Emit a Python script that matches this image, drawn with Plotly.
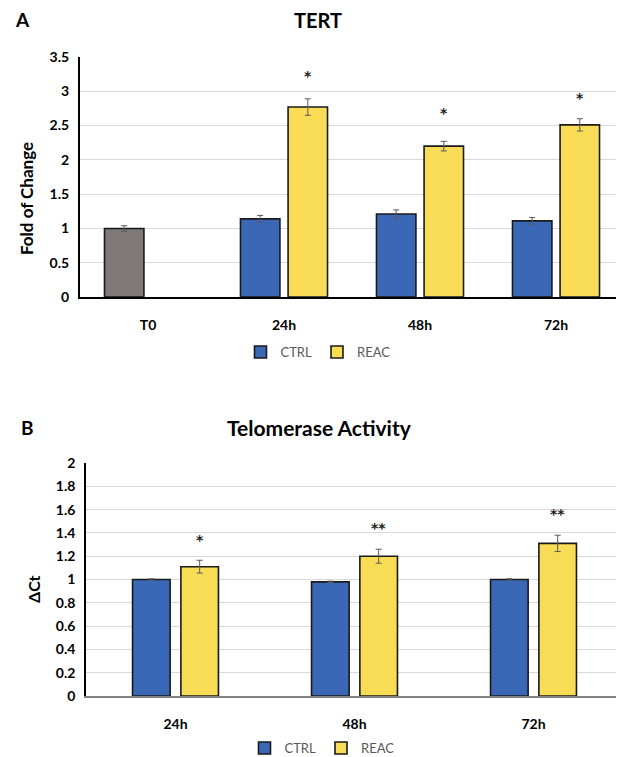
import plotly.graph_objects as go

# ---- Panel A data (TERT) ----
a_categories = ["T0", "24h", "48h", "72h"]
a_t0_value = [1.00]
a_t0_err = [0.04]
a_ctrl_x = ["24h", "48h", "72h"]
a_ctrl = [1.14, 1.21, 1.11]
a_ctrl_err = [0.05, 0.06, 0.05]
a_reac = [2.77, 2.20, 2.51]
a_reac_err = [0.12, 0.07, 0.09]
a_star_text = ["*", "*", "*"]
a_star_y = [3.22, 2.68, 2.90]
a_ticks = [0, 0.5, 1, 1.5, 2, 2.5, 3, 3.5]
a_ticktext = ["0", "0.5", "1", "1.5", "2", "2.5", "3", "3.5"]

# ---- Panel B data (Telomerase Activity) ----
b_categories = ["24h", "48h", "72h"]
b_ctrl = [1.00, 0.98, 1.00]
b_ctrl_err = [0.006, 0.006, 0.006]
b_reac = [1.11, 1.20, 1.31]
b_reac_err = [0.055, 0.06, 0.07]
b_star_text = ["*", "**", "**"]
b_star_y = [1.34, 1.44, 1.56]
b_ticks = [0, 0.2, 0.4, 0.6, 0.8, 1, 1.2, 1.4, 1.6, 1.8, 2]
b_ticktext = ["0", "0.2", "0.4", "0.6", "0.8", "1", "1.2", "1.4", "1.6", "1.8", "2"]

BLUE = "#3b68b6"
YELLOW = "#f8dc55"
GRAY = "#7e7876"
FONT = "Lato"

# page has an 8px body margin; figure fills the rest of the 624x757 window
OFF = 8
W, H = 624 - OFF, 757 - OFF


def px(x):
    return (x - OFF) / W


def py(y):
    return 1 - (y - OFF) / H


fig = go.Figure()

err_style = dict(type="data", color="#5a5a5a", thickness=1, width=3, visible=True)
line_style = dict(color="#1a1a1a", width=1.6)

# Panel A
fig.add_trace(go.Bar(x=["T0"], y=a_t0_value, error_y=dict(array=a_t0_err, **err_style),
                     marker=dict(color=GRAY, line=line_style), offset=-0.32, width=0.29,
                     xaxis="x", yaxis="y", showlegend=False, name="T0"))
fig.add_trace(go.Bar(x=a_ctrl_x, y=a_ctrl, error_y=dict(array=a_ctrl_err, **err_style),
                     marker=dict(color=BLUE, line=line_style), offset=-0.32, width=0.29,
                     xaxis="x", yaxis="y", name="CTRL", legend="legend"))
fig.add_trace(go.Bar(x=a_ctrl_x, y=a_reac, error_y=dict(array=a_reac_err, **err_style),
                     marker=dict(color=YELLOW, line=line_style), offset=0.03, width=0.29,
                     xaxis="x", yaxis="y", name="REAC", legend="legend"))

# Panel B
fig.add_trace(go.Bar(x=b_categories, y=b_ctrl, error_y=dict(array=b_ctrl_err, **err_style),
                     marker=dict(color=BLUE, line=line_style), offset=-0.24, width=0.21,
                     xaxis="x2", yaxis="y2", name="CTRL", legend="legend2"))
fig.add_trace(go.Bar(x=b_categories, y=b_reac, error_y=dict(array=b_reac_err, **err_style),
                     marker=dict(color=YELLOW, line=line_style), offset=0.03, width=0.21,
                     xaxis="x2", yaxis="y2", name="REAC", legend="legend2"))

annotations = []
star_font = dict(family="DejaVu Sans", size=14, color="#1a1a1a", weight="bold")
for i, (t, y) in enumerate(zip(a_star_text, a_star_y)):
    annotations.append(dict(x=i + 1 + 0.175, y=y, xref="x", yref="y", text=t, showarrow=False,
                            yanchor="middle", font=star_font))
for i, (t, y) in enumerate(zip(b_star_text, b_star_y)):
    annotations.append(dict(x=i + 0.135, y=y, xref="x2", yref="y2", text=t, showarrow=False,
                            yanchor="middle", font=star_font))


def label(text, x, y, size, angle=0):
    return dict(text=text, x=px(x), y=py(y), xref="paper", yref="paper", showarrow=False,
                xanchor="center", yanchor="middle", textangle=angle,
                font=dict(family=FONT, size=size, color="black"))


annotations += [
    label("<b>TERT</b>", 318, 20, 20),
    label("<b>A</b>", 22, 20, 19),
    label("<b>Telomerase Activity</b>", 320, 428, 21),
    label("<b>B</b>", 28, 428, 19),
    label("<b>Fold of Change</b>", 27, 199, 17, -90),
    label("<b>ΔCt</b>", 33, 590, 16, -90),
]

tickfont = dict(family=FONT, size=14, color="black", weight="bold")

fig.update_layout(
    width=W, height=H,
    margin=dict(l=0, r=0, t=0, b=0, autoexpand=False),
    paper_bgcolor="white", plot_bgcolor="white",
    barmode="overlay",
    annotations=annotations,
    xaxis=dict(domain=[px(80), 1.0], anchor="y", type="category",
               categoryorder="array", categoryarray=a_categories,
               showline=True, linecolor="black", linewidth=2, ticks="",
               tickfont=tickfont, showgrid=False, automargin=False, ticklabelstandoff=14),
    yaxis=dict(domain=[py(297), py(57)], anchor="x", range=[0, 3.5],
               tickvals=a_ticks, ticktext=a_ticktext, showline=True, linecolor="black",
               linewidth=2, gridcolor="#d9d9d9", gridwidth=1, tickfont=tickfont, ticks="",
               zeroline=False, automargin=False, ticklabelstandoff=6),
    xaxis2=dict(domain=[px(86), px(623)], anchor="y2", type="category",
                categoryorder="array", categoryarray=b_categories,
                showline=True, linecolor="#808080", linewidth=2, ticks="",
                tickfont=tickfont, showgrid=False, automargin=False, ticklabelstandoff=14),
    yaxis2=dict(domain=[py(696), py(463)], anchor="x2", range=[0, 2],
                tickvals=b_ticks, ticktext=b_ticktext, showline=True, linecolor="black",
                linewidth=1.5, gridcolor="#d9d9d9", gridwidth=1, tickfont=tickfont, ticks="",
                zeroline=False, automargin=False, ticklabelstandoff=6),
    legend=dict(orientation="h", x=px(318), y=py(352), xanchor="center", yanchor="middle",
                font=dict(family=FONT, size=13, color="#595959"), bgcolor="rgba(0,0,0,0)",
                itemwidth=30),
    legend2=dict(orientation="h", x=px(322), y=py(748), xanchor="center", yanchor="middle",
                 font=dict(family=FONT, size=13, color="#595959"), bgcolor="rgba(0,0,0,0)",
                 itemwidth=30),
)

fig.write_html("out.html")
